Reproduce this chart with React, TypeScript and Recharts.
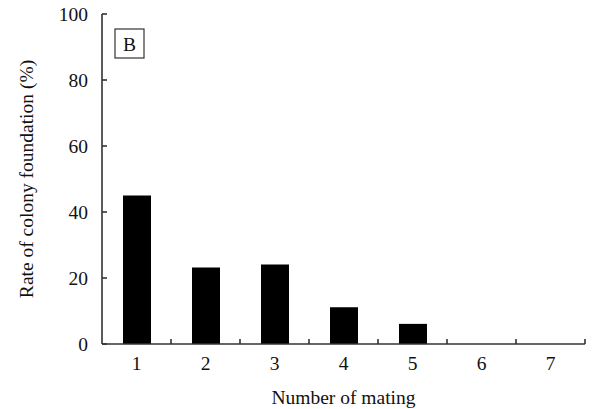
import React from 'react';
import { BarChart, Bar, XAxis, YAxis } from 'recharts';

const matings = ['1', '2', '3', '4', '5', '6', '7'];
const foundationRate = [45, 23.2, 24.1, 11.1, 6.1, 0, 0];
const yTicks = [0, 20, 40, 60, 80, 100];

const data = matings.map((m, i) => ({ mating: m, rate: foundationRate[i] }));

const FONT = '"Liberation Serif", "Times New Roman", serif';
const AXIS = '#333';
const FS = 19.5;

// inward tick marks, like the original figure
const renderYTick = (props: any) => {
  const { x, y, payload } = props;
  const axisX = x + 12;
  return (
    <g key={`y-${payload.value}`}>
      <line x1={axisX} x2={axisX + 5} y1={y} y2={y} stroke={AXIS} strokeWidth={1.6} />
      <text x={x - 2} y={y} dy={7} textAnchor="end" fontFamily={FONT} fontSize={FS} fill="#111">
        {payload.value}
      </text>
    </g>
  );
};

// ticks sit between categories, pointing up
const renderXTick = (props: any) => {
  const { x, y, payload } = props;
  const half = typeof payload.offset === 'number' && payload.offset > 0 ? payload.offset : 34.5;
  const baseY = y - 6;
  return (
    <g key={`x-${payload.value}`}>
      <line x1={x + half} x2={x + half} y1={baseY} y2={baseY - 5} stroke={AXIS} strokeWidth={1.6} />
      <text x={x} y={y} dy={20} textAnchor="middle" fontFamily={FONT} fontSize={FS} fill="#111">
        {payload.value}
      </text>
    </g>
  );
};

export default function App() {
  return (
    <div style={{ position: 'absolute', left: 0, top: 0, width: 595, height: 409, background: '#fff' }}>
      <BarChart
        width={595}
        height={409}
        data={data}
        margin={{ top: 14, right: 10, bottom: 0, left: 0 }}
      >
        <XAxis
          dataKey="mating"
          height={65}
          tickLine={false}
          tickSize={4}
          axisLine={{ stroke: AXIS, strokeWidth: 1.6 }}
          tick={renderXTick}
          interval={0}
          label={{
            value: 'Number of mating',
            position: 'insideBottom',
            offset: 5,
            fontFamily: FONT,
            fontSize: FS,
            fill: '#111',
          }}
        />
        <YAxis
          width={102}
          domain={[0, 100]}
          ticks={yTicks}
          tickLine={false}
          tickSize={0}
          tickMargin={12}
          axisLine={{ stroke: AXIS, strokeWidth: 1.6 }}
          tick={renderYTick}
          label={{
            value: 'Rate of colony foundation (%)',
            angle: -90,
            position: 'insideLeft',
            offset: 26,
            fontFamily: FONT,
            fontSize: FS,
            fill: '#111',
            style: { textAnchor: 'middle' },
          }}
        />
        <Bar dataKey="rate" fill="#000" barSize={28} isAnimationActive={false} />
        <g>
          <rect x={115} y={29} width={29} height={29} fill="none" stroke={AXIS} strokeWidth={1.2} />
          <text x={129.5} y={50.5} textAnchor="middle" fontFamily={FONT} fontSize={FS} fill="#111">
            B
          </text>
        </g>
      </BarChart>
    </div>
  );
}
